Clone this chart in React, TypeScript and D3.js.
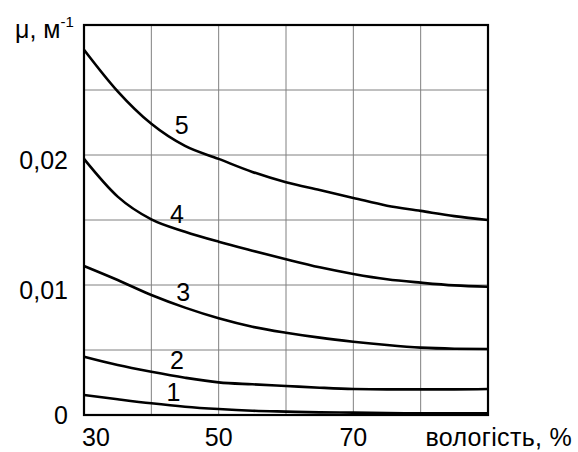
import React from "react";
import * as d3 from "d3";

const humidity = [30, 35, 40, 45, 50, 55, 60, 65, 70, 75, 80, 85, 90];
const curve1 = [0.00154, 0.00121, 0.0009, 0.00064, 0.00046, 0.00033, 0.00026, 0.0002, 0.00018, 0.00015, 0.00013, 0.00013, 0.00013];
const curve2 = [0.00449, 0.00385, 0.00333, 0.00287, 0.00251, 0.00236, 0.00223, 0.0021, 0.002, 0.00197, 0.00197, 0.00197, 0.002];
const curve3 = [0.01146, 0.01038, 0.00923, 0.00826, 0.00744, 0.00679, 0.00633, 0.00595, 0.00564, 0.00538, 0.00518, 0.0051, 0.00508];
const curve4 = [0.0197, 0.0168, 0.01505, 0.0141, 0.01333, 0.01264, 0.01198, 0.01136, 0.01085, 0.01044, 0.01018, 0.00997, 0.00987];
const curve5 = [0.0281, 0.0249, 0.0224, 0.0207, 0.0197, 0.0187, 0.0179, 0.0173, 0.0167, 0.0161, 0.0157, 0.0153, 0.015];
const seriesNames = ["1", "2", "3", "4", "5"];
const labelX = [43.3, 43.8, 44.75, 43.8, 44.5];
const labelY = [0.00179, 0.00423, 0.00948, 0.01546, 0.0223];
const xTickLabels = [30, 50, 70];
const yTickValues = [0, 0.01, 0.02];
const yTickLabels = ["0", "0,01", "0,02"];
const xTitle = "вологість, %";

const FONT = "'Liberation Sans', Arial, sans-serif";

export default function App() {
  const W = 578, H = 452;
  const x = d3.scaleLinear().domain([30, 90]).range([84, 488]);
  const y = d3.scaleLinear().domain([0, 0.03]).range([415, 25]);
  const all = [curve1, curve2, curve3, curve4, curve5];
  const line = d3
    .line<number>()
    .x((_, i) => x(humidity[i]))
    .y((d) => y(d))
    .curve(d3.curveMonotoneX);
  const xGrid = d3.range(30, 91, 10);
  const yGrid = d3.range(0, 6).map((i) => i * 0.005).concat([0.03]);
  return (
    <svg width={W} height={H} style={{ position: "absolute", left: 0, top: 0, background: "#fff" }} fontFamily={FONT}>
      <rect x={0} y={0} width={W} height={H} fill="#fff" />
      {xGrid.map((v) => (
        <line key={"gx" + v} x1={x(v)} x2={x(v)} y1={y(0.03)} y2={y(0)} stroke="#808080" strokeWidth={1} />
      ))}
      {yGrid.map((v) => (
        <line key={"gy" + v} x1={x(30)} x2={x(90)} y1={y(v)} y2={y(v)} stroke="#808080" strokeWidth={1} />
      ))}
      <rect x={x(30)} y={y(0.03)} width={x(90) - x(30)} height={y(0) - y(0.03)} fill="none" stroke="#000" strokeWidth={2.2} />
      {all.map((s, i) => (
        <path key={"c" + i} d={line(s) || ""} fill="none" stroke="#000" strokeWidth={2.6} />
      ))}
      {seriesNames.map((n, i) => (
        <text key={"l" + n} x={x(labelX[i])} y={y(labelY[i])} fontSize={25} textAnchor="middle" dominantBaseline="central">
          {n}
        </text>
      ))}
      {yTickValues.map((v, i) => (
        <text key={"yt" + v} x={68} y={y(v) + (v === 0 ? 0 : 5)} fontSize={25} textAnchor="end" dominantBaseline="central">
          {yTickLabels[i]}
        </text>
      ))}
      {xTickLabels.map((v, i) => (
        <text key={"xt" + v} x={i === 0 ? x(v) - 2 : x(v)} y={446} fontSize={25} textAnchor={i === 0 ? "start" : "middle"}>
          {v}
        </text>
      ))}
      <text x={572} y={446} fontSize={25} textAnchor="end" letterSpacing={0.3}>
        {xTitle}
      </text>
      <text x={15} y={38} fontSize={25}>
        μ, м<tspan fontSize={15} dy={-11}>-1</tspan>
      </text>
    </svg>
  );
}
